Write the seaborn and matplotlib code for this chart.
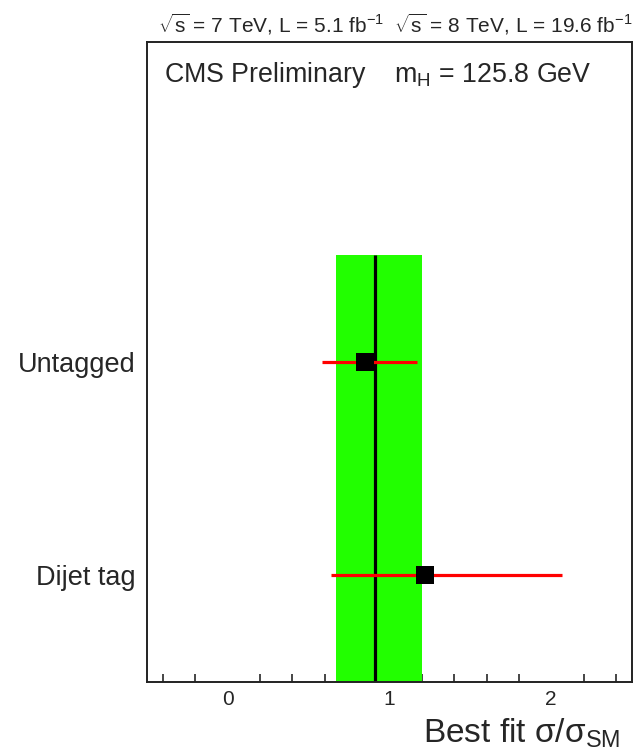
import matplotlib
matplotlib.use("Agg")
import matplotlib.pyplot as plt
import seaborn as sns
import pandas as pd
from matplotlib.ticker import MultipleLocator

categories = ["Dijet tag", "Untagged"]
best_fit = [1.22, 0.85]
err_low = [0.64, 0.585]
err_high = [2.07, 1.17]
combined_best = 0.91
combined_low = 0.67
combined_high = 1.20
x_ticks = [0, 1, 2]

sns.set_style("white")
plt.rcParams['font.family'] = ['Liberation Sans', 'DejaVu Sans']
plt.rcParams['mathtext.fontset'] = 'custom'
plt.rcParams['mathtext.rm'] = 'Liberation Sans'
plt.rcParams['mathtext.it'] = 'Liberation Sans'
plt.rcParams['mathtext.sf'] = 'Liberation Sans'
plt.rcParams['mathtext.default'] = 'regular'

ypos = [i + 0.5 for i in range(len(categories))]
df = pd.DataFrame({"cat": categories, "mu": best_fit, "lo": err_low, "hi": err_high, "y": ypos})

fig = plt.figure(figsize=(6.33, 7.54), dpi=100)
ax = fig.add_axes([147/633, 1-682/754, (632-147)/633, (682-42)/754])

ax.fill_betweenx([0, len(categories)], combined_low, combined_high, color="#22ff00", linewidth=0, zorder=1)
ax.vlines(combined_best, 0, len(categories), color="black", linewidth=2.3, zorder=2)
ax.hlines(df["y"], df["lo"], df["hi"], color="#ff0000", linewidth=2.3, zorder=3)
sns.scatterplot(data=df, x="mu", y="y", marker="s", s=170, color="black", edgecolor="black", linewidth=0, zorder=4, ax=ax, legend=False)

ax.set_xlim(-0.5, 2.5)
ax.set_ylim(0, 3)
ax.set_yticks(ypos)
ax.set_yticklabels(categories, fontsize=19.5)
ax.set_xticks(x_ticks)
ax.set_xticklabels([str(t) for t in x_ticks], fontsize=15)
ax.xaxis.set_minor_locator(MultipleLocator(0.2))
ax.tick_params(axis="x", which="major", direction="in", length=11, width=1.2, pad=6, top=False)
ax.tick_params(axis="x", which="minor", direction="in", length=6, width=1.2, top=False, bottom=True)
ax.tick_params(axis="y", length=0, pad=8)
for s in ax.spines.values():
    s.set_color("#222222")
    s.set_linewidth(1.4)
ax.set_ylabel("")
ax.set_xlabel("")
fig.text(423/633, 1-733/754, r"Best fit $\sigma/\sigma_{SM}$", fontsize=24, ha="left", va="center")

ax.text(1.0, 1.008, r"$\sqrt{s}$ = 7 TeV, L = 5.1 fb$^{-1}$  $\sqrt{s}$ = 8 TeV, L = 19.6 fb$^{-1}$",
        transform=ax.transAxes, ha="right", va="bottom", fontsize=15)
ax.text(0.035, 0.948, r"CMS Preliminary    m$_{H}$ = 125.8 GeV", transform=ax.transAxes,
        ha="left", va="center", fontsize=19.3)

fig.savefig("out.png", dpi=100)
